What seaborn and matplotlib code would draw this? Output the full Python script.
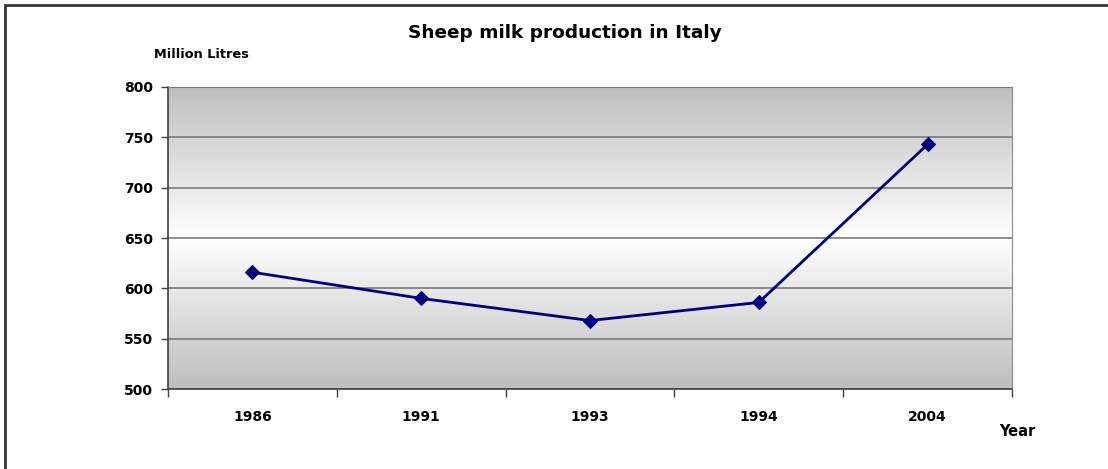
import numpy as np
import pandas as pd
import matplotlib
matplotlib.use("Agg")
import matplotlib.pyplot as plt
import seaborn as sns
from matplotlib.colors import LinearSegmentedColormap
from matplotlib.patches import Rectangle

years = ["1986", "1991", "1993", "1994", "2004"]
production = [616, 590, 568, 586, 743]
y_ticks = [500, 550, 600, 650, 700, 750, 800]

sns.set_style("white", {"text.color": "black", "xtick.color": "black",
                        "ytick.color": "black", "axes.labelcolor": "black"})
plt.rcParams['font.family'] = ['DejaVu Sans']
plt.rcParams['font.weight'] = 'bold'

df = pd.DataFrame({"Year": years, "Production": production})

fig = plt.figure(figsize=(11.08, 4.69), dpi=100)
ax = fig.add_axes([168 / 1108, 1 - 389 / 469, (1012 - 168) / 1108, (389 - 87) / 469])

# gray-white-gray background gradient
grad = LinearSegmentedColormap.from_list("bg", ["#bebebe", "#ffffff", "#bebebe"])
ax.imshow(np.linspace(0, 1, 256).reshape(-1, 1), cmap=grad, aspect="auto",
          extent=[0, 1, 0, 1], transform=ax.transAxes, zorder=0)

sns.lineplot(data=df, x="Year", y="Production", ax=ax, color="#000080",
             linewidth=2, marker="D", markersize=7.5, markeredgecolor="#000080",
             zorder=5)

ax.set_xlim(-0.5, len(years) - 0.5)
ax.set_ylim(500, 800)
ax.set_yticks(y_ticks)
ax.set_yticklabels([str(v) for v in y_ticks], fontsize=10, fontweight="bold")
for v in y_ticks:
    ax.axhline(v, color="#7a7a7a", linewidth=1.2, zorder=1)

ax.set_xticks(range(len(years)))
ax.set_xticklabels(years, fontsize=10, fontweight="bold")
ax.set_xticks(np.arange(-0.5, len(years), 1.0), minor=True)
ax.tick_params(axis="x", which="major", length=0, pad=15, bottom=True)
ax.tick_params(axis="x", which="minor", length=6, width=1, color="#404040",
               direction="out", bottom=True)
ax.tick_params(axis="y", which="major", length=5, width=1, color="#404040",
               direction="out", left=True, pad=6)
ax.set_xlabel("")
ax.set_ylabel("")

for side in ["left", "bottom"]:
    ax.spines[side].set_color("#404040")
    ax.spines[side].set_linewidth(1.2)
ax.spines["right"].set_color("#8a8a8a")
ax.spines["top"].set_color("#7a7a7a")

fig.text(565 / 1108, 1 - 33 / 469, "Sheep milk production in Italy",
         ha="center", va="center", fontsize=13.3, fontweight="bold")
fig.text(201 / 1108, 1 - 55 / 469, "Million Litres",
         ha="center", va="center", fontsize=9.3, fontweight="bold")
fig.text(1017 / 1108, 1 - 431 / 469, "Year",
         ha="center", va="center", fontsize=10.5, fontweight="bold")

# outer chart border (right/bottom edges cropped in the original)
fig.patches.append(Rectangle((5 / 1108, -0.1), 1.2, 1 - 5 / 469 + 0.1,
                             transform=fig.transFigure, fill=False,
                             edgecolor="#333333", linewidth=2))

fig.savefig("out.png", dpi=100)
